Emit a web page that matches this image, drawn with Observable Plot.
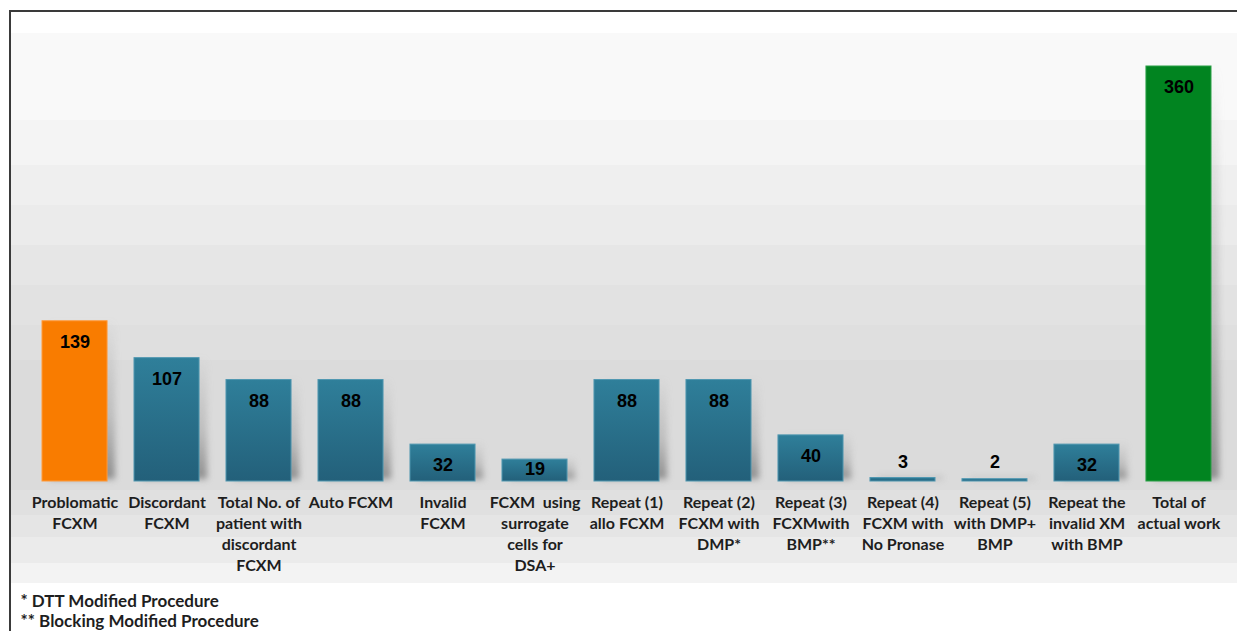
<!DOCTYPE html>
<html>
<head>
<meta charset="utf-8">
<script src="https://cdn.jsdelivr.net/npm/d3@7"></script>
<script src="https://cdn.jsdelivr.net/npm/@observablehq/plot@0.6"></script>
<style>
  html, body { margin: 0; padding: 0; background: #fff; }
  #wrap { position: relative; width: 1237px; height: 631px; overflow: hidden; background: #fff; }
  #panel {
    position: absolute; left: 9px; top: 10px; right: -2px; bottom: -2px;
    border-top: 2px solid #3a3a3a; border-left: 2px solid #3a3a3a;
    background: linear-gradient(to bottom,
      #ffffff 0px, #ffffff 21px,
      #f9f9f9 21px, #f9f9f9 108px,
      #f4f4f4 108px, #f4f4f4 153px,
      #efefef 153px, #efefef 193px,
      #ebebeb 193px, #ebebeb 233px,
      #e6e6e6 233px, #e6e6e6 273px,
      #e2e2e2 273px, #e2e2e2 313px,
      #dfdfdf 313px, #dfdfdf 348px,
      #dbdbdb 348px, #dbdbdb 478px,
      #e0e0e0 478px, #e0e0e0 503px,
      #e5e5e5 503px, #e5e5e5 525px,
      #ebebeb 525px, #ebebeb 551px,
      #f3f3f3 551px, #f3f3f3 571px,
      #ffffff 571px, #ffffff 700px);
  }
  #chart { position: absolute; left: 0; top: 0; }
  #chart svg { background: transparent !important; }
</style>
</head>
<body>
<svg width="0" height="0" style="position:absolute">
  <defs>
    <linearGradient id="teal" x1="0" y1="0" x2="0" y2="1">
      <stop offset="0" stop-color="#2f7f9a"/>
      <stop offset="1" stop-color="#23607a"/>
    </linearGradient>
    <linearGradient id="shade" x1="0" y1="0" x2="0" y2="1">
      <stop offset="0" stop-color="#8a8a8a" stop-opacity="0"/>
      <stop offset="0.6" stop-color="#8a8a8a" stop-opacity="0.35"/>
      <stop offset="1" stop-color="#7a7a7a" stop-opacity="0.8"/>
    </linearGradient>
  </defs>
</svg>
<div id="wrap">
  <div id="panel"></div>
  <div id="chart"></div>
</div>
<script>
const categories = [
  "Problomatic\nFCXM",
  "Discordant\nFCXM",
  "Total No. of\npatient with\ndiscordant\nFCXM",
  "Auto FCXM",
  "Invalid\nFCXM",
  "FCXM  using\nsurrogate\ncells for\nDSA+",
  "Repeat (1)\nallo FCXM",
  "Repeat (2)\nFCXM with\nDMP*",
  "Repeat (3)\nFCXMwith\nBMP**",
  "Repeat (4)\nFCXM with\nNo Pronase",
  "Repeat (5)\nwith DMP+\nBMP",
  "Repeat the\ninvalid XM\nwith BMP",
  "Total of\nactual work"
];
const values = [139, 107, 88, 88, 32, 19, 88, 88, 40, 3, 2, 32, 360];
const kinds = ["problem", "step", "step", "step", "step", "step", "step", "step", "step", "step", "step", "step", "total"];
const footnotes = ["* DTT Modified Procedure", "** Blocking Modified Procedure"];

const data = categories.map((c, i) => ({cat: c, value: values[i], kind: kinds[i]}));
const fillOf = {problem: "#f97c00", step: "url(#teal)", total: "#018420"};
const strokeOf = {problem: "#ff9a3a", step: "#4f97b0", total: "#2aa046"};

// label placement: inside end for tall bars, above tiny bars
const labelY = v => v > 10 ? Math.max(v - 18, 11) : 17;

const plot = Plot.plot({
  width: 1237,
  height: 631,
  marginTop: 66,
  marginBottom: 150,
  marginLeft: 42,
  marginRight: 26,
  style: {background: "transparent", overflow: "visible"},
  x: {domain: categories, paddingInner: 0.293, paddingOuter: 0, round: false, axis: null},
  y: {domain: [0, 360], axis: null},
  marks: [
    Plot.barY(data, {x: "cat", y: "value", fill: "url(#shade)", dx: 8, dy: -2}),
    Plot.barY(data, {x: "cat", y: "value", fill: d => fillOf[d.kind], stroke: d => strokeOf[d.kind], strokeWidth: 1}),
    Plot.text(data, {
      x: "cat", y: d => labelY(d.value), text: d => String(d.value),
      fontFamily: "'Liberation Sans', Arial, sans-serif", fontWeight: "bold", fontSize: 18, fill: "#000"
    }),
    Plot.text(data, {
      x: "cat", text: "cat", frameAnchor: "bottom", lineAnchor: "top", dy: 12,
      fontFamily: "Lato, 'Open Sans', sans-serif", fontWeight: "bold", fontSize: 16,
      lineHeight: 1.31, fill: "#1e1e1e"
    }),
    Plot.text(footnotes, {
      text: d => d, frameAnchor: "bottom-left", textAnchor: "start", lineAnchor: "middle",
      fontFamily: "Lato, 'Open Sans', sans-serif", fontWeight: "bold", fontSize: 17, fill: "#1e1e1e"
    })
  ]
});
document.getElementById("chart").appendChild(plot);

// position footnotes (two lines) and blur the shadow bars
const svg = d3.select(plot);
const notes = svg.selectAll("g[aria-label=text]").filter((d, i) => i === 2).selectAll("text");
notes.each(function(d, i) {
  d3.select(this).attr("transform", `translate(20, ${601 + i * 20})`).attr("x", 0).attr("y", 0).attr("dy", "0.32em");
});
svg.select("g[aria-label=bar]").style("filter", "blur(3px)");
</script>
</body>
</html>
